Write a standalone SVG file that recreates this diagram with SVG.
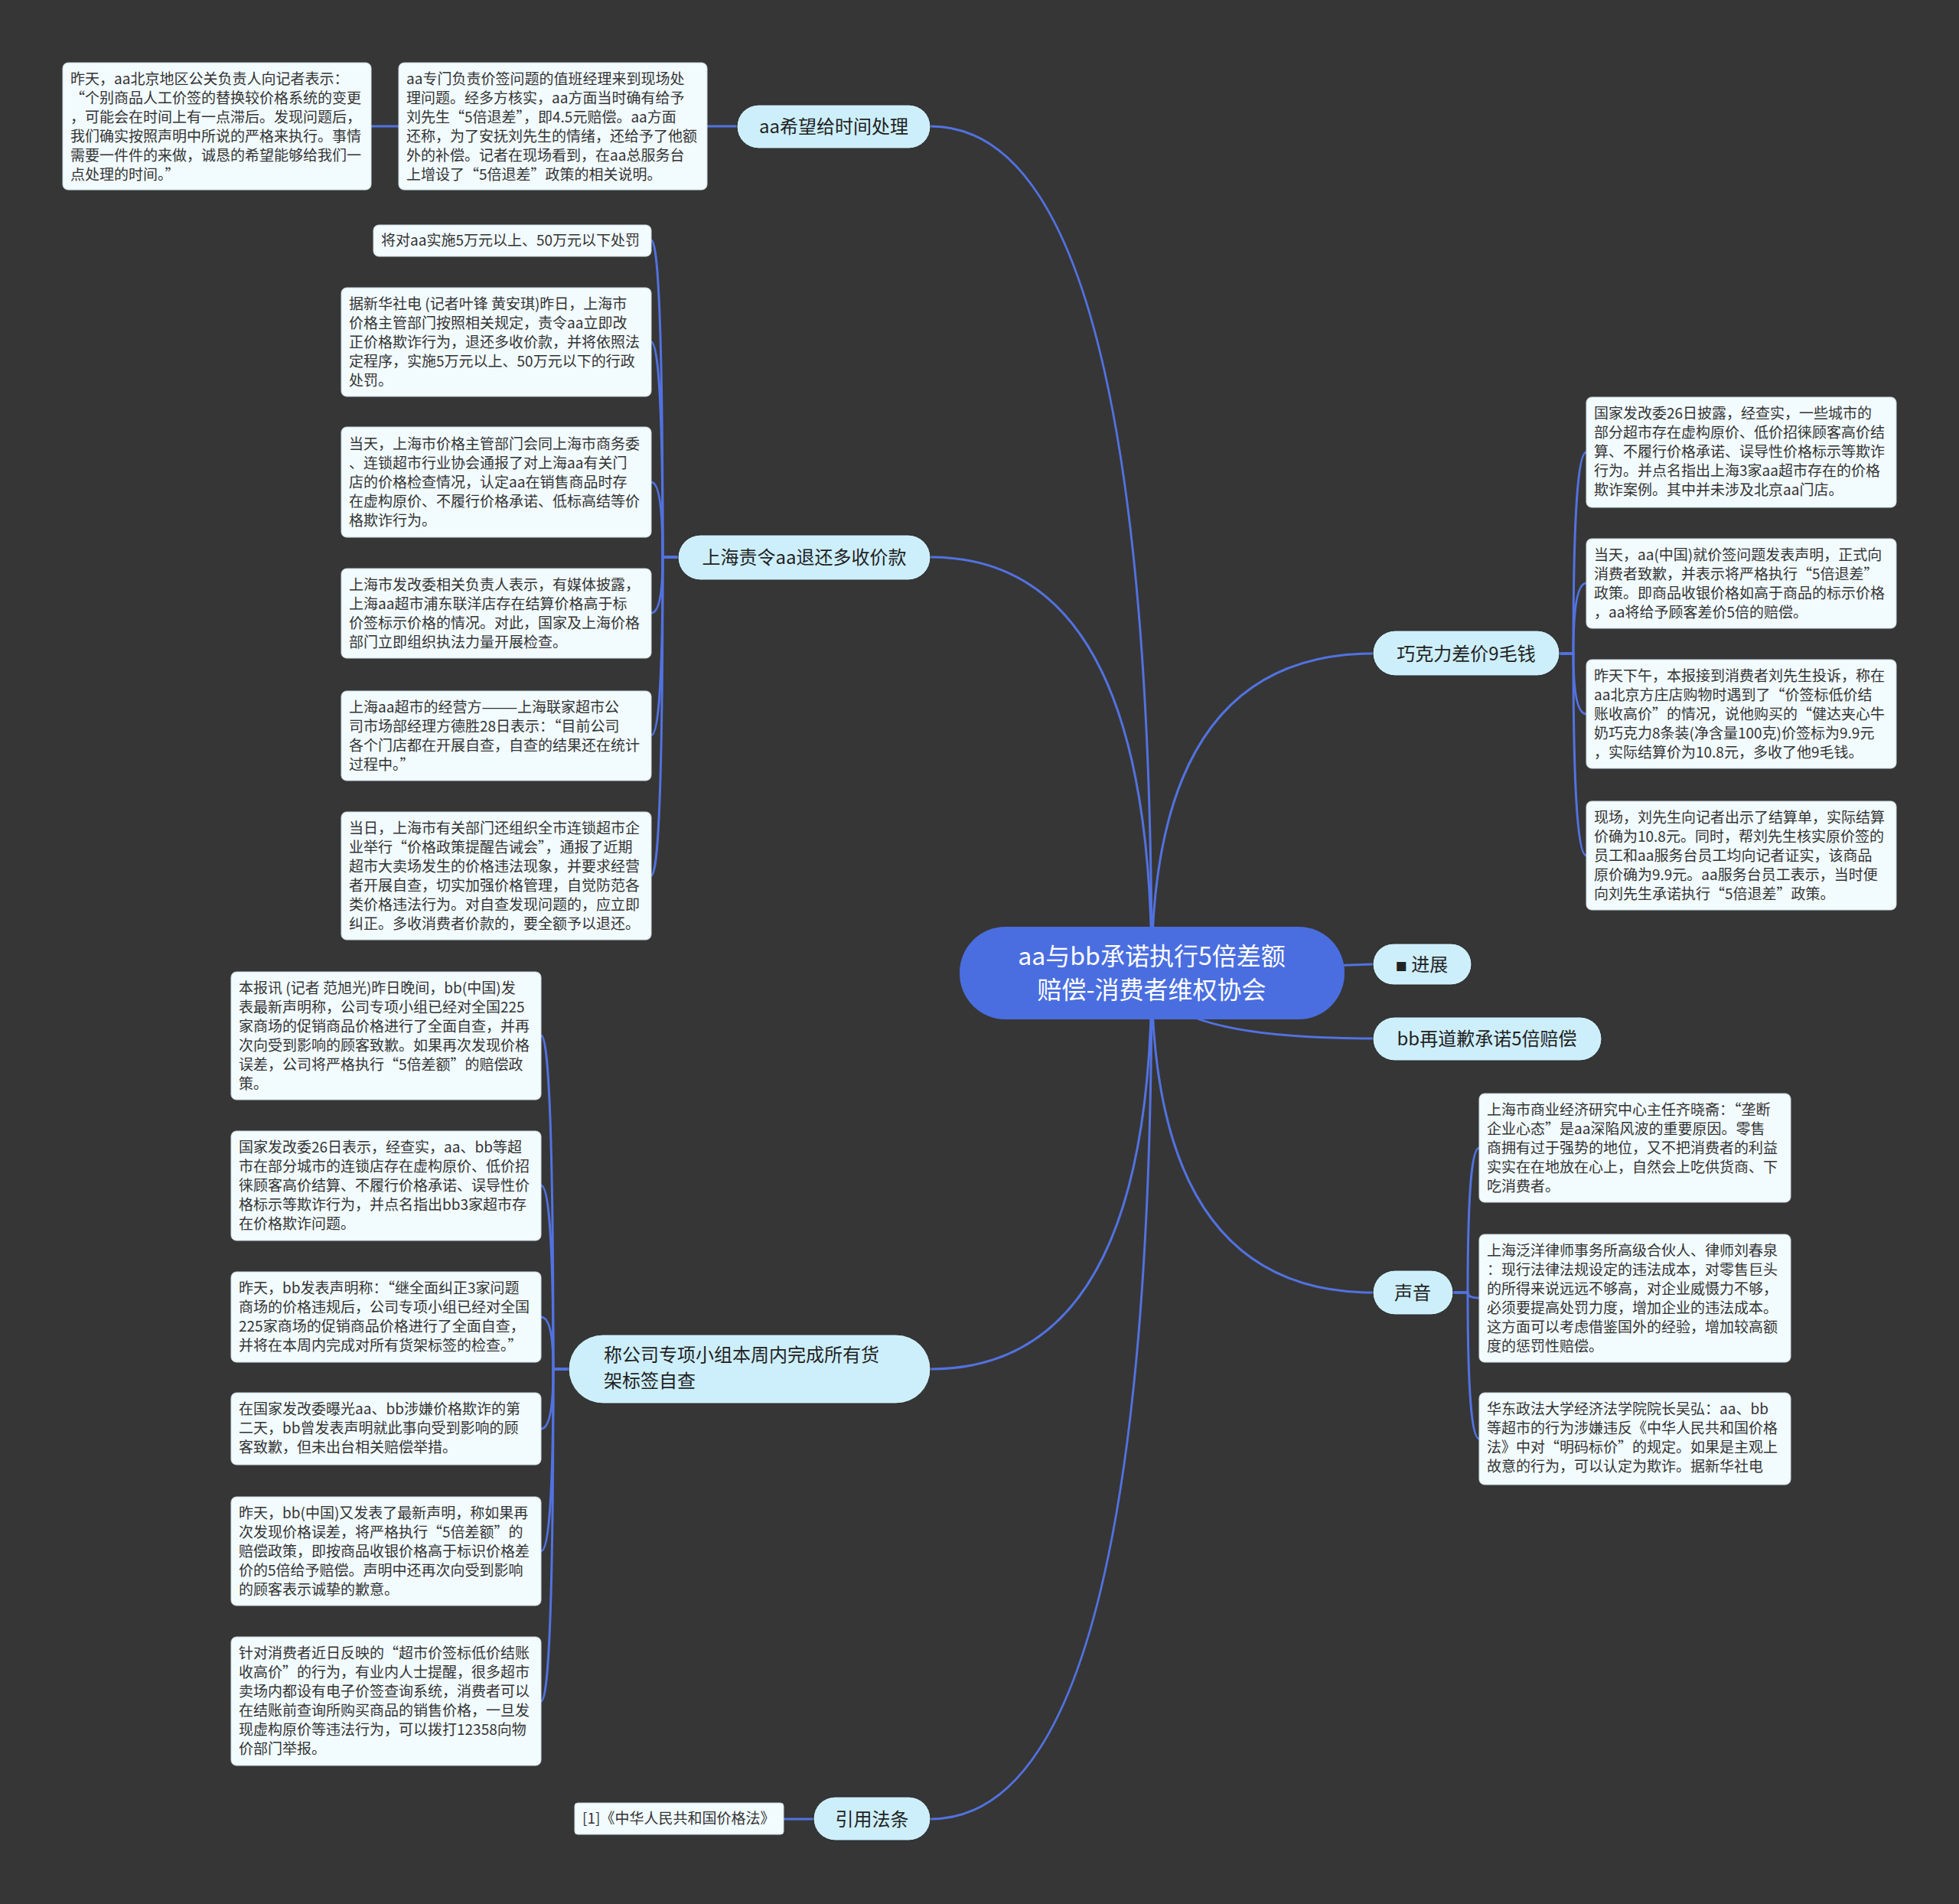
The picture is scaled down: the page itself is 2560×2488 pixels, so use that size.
<svg xmlns="http://www.w3.org/2000/svg" width="2560" height="2488" viewBox="0 0 2560 2488">
<style>
.bg{fill:#363636}
.ln{fill:none;stroke:#5272E0;stroke-width:3}
.root rect{fill:#4A6EE0}
.root text{fill:#ffffff;font-size:32px;text-anchor:middle}
.br rect{fill:#CDEFFC;stroke:#2a2a2a;stroke-width:1}
.br text{fill:#222;font-size:24px}
.lf rect{fill:#F2FBFE;stroke:#cfdde3;stroke-width:1}
.lf text{fill:#333;font-size:19px}
text{font-family:"Noto Sans CJK SC","Noto Sans",sans-serif}
</style>
<rect class="bg" x="0" y="0" width="2560" height="2488"/>
<g id="connectors">
<path class="ln" d="M1505 1270 Q1505 165 1216 165"/>
<path class="ln" d="M1505 1270 Q1505 728 1216 728"/>
<path class="ln" d="M1505 1270 Q1505 1789 1216 1789"/>
<path class="ln" d="M1505 1270 Q1505 2377 1216 2377"/>
<path class="ln" d="M1505 1270 Q1505 854 1794 854"/>
<path class="ln" d="M1505 1270 L1794 1260"/>
<path class="ln" d="M1505 1270 Q1505 1357 1794 1357"/>
<path class="ln" d="M1505 1270 Q1505 1689 1794 1689"/>
<path class="ln" d="M963 165 L924 165"/>
<path class="ln" d="M521 165 L485 165"/>
<path class="ln" d="M1063 2377 L1024 2377"/>
<path class="ln" d="M886 728 H866 Q866 314 851 314"/>
<path class="ln" d="M886 728 H866 Q866 447 851 447"/>
<path class="ln" d="M886 728 H866 Q866 630 851 630"/>
<path class="ln" d="M886 728 H866 Q866 801 851 801"/>
<path class="ln" d="M886 728 H866 Q866 961 851 961"/>
<path class="ln" d="M886 728 H866 Q866 1144 851 1144"/>
<path class="ln" d="M743 1789 H723 Q723 1353 707 1353"/>
<path class="ln" d="M743 1789 H723 Q723 1549 707 1549"/>
<path class="ln" d="M743 1789 H723 Q723 1721 707 1721"/>
<path class="ln" d="M743 1789 H723 Q723 1867 707 1867"/>
<path class="ln" d="M743 1789 H723 Q723 2027 707 2027"/>
<path class="ln" d="M743 1789 H723 Q723 2223 707 2223"/>
<path class="ln" d="M2038 854 H2056 Q2056 591 2073 591"/>
<path class="ln" d="M2038 854 H2056 Q2056 762 2073 762"/>
<path class="ln" d="M2038 854 H2056 Q2056 933 2073 933"/>
<path class="ln" d="M2038 854 H2056 Q2056 1118 2073 1118"/>
<path class="ln" d="M1899 1689 H1918 Q1918 1500 1933 1500"/>
<path class="ln" d="M1899 1689 H1918 Q1918 1696 1933 1696"/>
<path class="ln" d="M1899 1689 H1918 Q1918 1880 1933 1880"/>
</g>
<g id="root" class="root">
<rect x="1254" y="1211" width="503" height="121" rx="60"/>
<text x="1505" y="1261">aa与bb承诺执行5倍差额</text>
<text x="1505" y="1305">赔偿-消费者维权协会</text>
</g>
<g id="b-time" class="br"><rect x="963" y="137" width="253" height="57" rx="28.5"/><text x="1089.5" y="174" text-anchor="middle">aa希望给时间处理</text></g>
<g id="b-sh" class="br"><rect x="886" y="699" width="330" height="59" rx="29.5"/><text x="1051" y="737" text-anchor="middle">上海责令aa退还多收价款</text></g>
<g id="b-co" class="br"><rect x="743" y="1744" width="473" height="90" rx="45"/><text x="789" y="1779">称公司专项小组本周内完成所有货</text><text x="789" y="1813">架标签自查</text></g>
<g id="b-law" class="br"><rect x="1063" y="2348" width="153" height="57" rx="28.5"/><text x="1139.5" y="2386" text-anchor="middle">引用法条</text></g>
<g id="b-choc" class="br"><rect x="1794" y="824" width="244" height="59" rx="29.5"/><text x="1916" y="863" text-anchor="middle">巧克力差价9毛钱</text></g>
<g id="b-prog" class="br"><rect x="1794" y="1233" width="129" height="54" rx="27"/><text x="1858" y="1269" text-anchor="middle"><tspan font-size="15px">■</tspan> 进展</text></g>
<g id="b-bb" class="br"><rect x="1794" y="1329" width="299" height="57" rx="28.5"/><text x="1943" y="1366" text-anchor="middle">bb再道歉承诺5倍赔偿</text></g>
<g id="b-voice" class="br"><rect x="1794" y="1660" width="105" height="58" rx="29"/><text x="1846" y="1698" text-anchor="middle">声音</text></g>

<g id="l-1" class="lf"><rect x="82" y="82" width="403" height="166" rx="7"/><text x="92" y="110"><tspan x="92">昨天，aa北京地区公关负责人向记者表示：</tspan><tspan x="92" dy="25">“个别商品人工价签的替换较价格系统的变更</tspan><tspan x="92" dy="25">，可能会在时间上有一点滞后。发现问题后，</tspan><tspan x="92" dy="25">我们确实按照声明中所说的严格来执行。事情</tspan><tspan x="92" dy="25">需要一件件的来做，诚恳的希望能够给我们一</tspan><tspan x="92" dy="25">点处理的时间。”</tspan></text></g>
<g id="l-2" class="lf"><rect x="521" y="82" width="403" height="166" rx="7"/><text x="531" y="110"><tspan x="531">aa专门负责价签问题的值班经理来到现场处</tspan><tspan x="531" dy="25">理问题。经多方核实，aa方面当时确有给予</tspan><tspan x="531" dy="25">刘先生“5倍退差”，即4.5元赔偿。aa方面</tspan><tspan x="531" dy="25">还称，为了安抚刘先生的情绪，还给予了他额</tspan><tspan x="531" dy="25">外的补偿。记者在现场看到，在aa总服务台</tspan><tspan x="531" dy="25">上增设了“5倍退差”政策的相关说明。</tspan></text></g>

<g id="s-1" class="lf"><rect x="488" y="294" width="363" height="41" rx="7"/><text x="498" y="321">将对aa实施5万元以上、50万元以下处罚</text></g>
<g id="s-2" class="lf"><rect x="446" y="376" width="405" height="142" rx="7"/><text x="456" y="404"><tspan x="456">据新华社电 (记者叶锋 黄安琪)昨日，上海市</tspan><tspan x="456" dy="25">价格主管部门按照相关规定，责令aa立即改</tspan><tspan x="456" dy="25">正价格欺诈行为，退还多收价款，并将依照法</tspan><tspan x="456" dy="25">定程序，实施5万元以上、50万元以下的行政</tspan><tspan x="456" dy="25">处罚。</tspan></text></g>
<g id="s-3" class="lf"><rect x="446" y="558" width="405" height="144" rx="7"/><text x="456" y="587"><tspan x="456">当天，上海市价格主管部门会同上海市商务委</tspan><tspan x="456" dy="25">、连锁超市行业协会通报了对上海aa有关门</tspan><tspan x="456" dy="25">店的价格检查情况，认定aa在销售商品时存</tspan><tspan x="456" dy="25">在虚构原价、不履行价格承诺、低标高结等价</tspan><tspan x="456" dy="25">格欺诈行为。</tspan></text></g>
<g id="s-4" class="lf"><rect x="446" y="743" width="405" height="117" rx="7"/><text x="456" y="771"><tspan x="456">上海市发改委相关负责人表示，有媒体披露，</tspan><tspan x="456" dy="25">上海aa超市浦东联洋店存在结算价格高于标</tspan><tspan x="456" dy="25">价签标示价格的情况。对此，国家及上海价格</tspan><tspan x="456" dy="25">部门立即组织执法力量开展检查。</tspan></text></g>
<g id="s-5" class="lf"><rect x="446" y="903" width="405" height="117" rx="7"/><text x="456" y="931"><tspan x="456">上海aa超市的经营方———上海联家超市公</tspan><tspan x="456" dy="25">司市场部经理方德胜28日表示：“目前公司</tspan><tspan x="456" dy="25">各个门店都在开展自查，自查的结果还在统计</tspan><tspan x="456" dy="25">过程中。”</tspan></text></g>
<g id="s-6" class="lf"><rect x="446" y="1061" width="405" height="167" rx="7"/><text x="456" y="1089"><tspan x="456">当日，上海市有关部门还组织全市连锁超市企</tspan><tspan x="456" dy="25">业举行“价格政策提醒告诫会”，通报了近期</tspan><tspan x="456" dy="25">超市大卖场发生的价格违法现象，并要求经营</tspan><tspan x="456" dy="25">者开展自查，切实加强价格管理，自觉防范各</tspan><tspan x="456" dy="25">类价格违法行为。对自查发现问题的，应立即</tspan><tspan x="456" dy="25">纠正。多收消费者价款的，要全额予以退还。</tspan></text></g>

<g id="c-1" class="lf"><rect x="302" y="1270" width="405" height="167" rx="7"/><text x="312" y="1298"><tspan x="312">本报讯 (记者 范旭光)昨日晚间，bb(中国)发</tspan><tspan x="312" dy="25">表最新声明称，公司专项小组已经对全国225</tspan><tspan x="312" dy="25">家商场的促销商品价格进行了全面自查，并再</tspan><tspan x="312" dy="25">次向受到影响的顾客致歉。如果再次发现价格</tspan><tspan x="312" dy="25">误差，公司将严格执行“5倍差额”的赔偿政</tspan><tspan x="312" dy="25">策。</tspan></text></g>
<g id="c-2" class="lf"><rect x="302" y="1478" width="405" height="143" rx="7"/><text x="312" y="1506"><tspan x="312">国家发改委26日表示，经查实，aa、bb等超</tspan><tspan x="312" dy="25">市在部分城市的连锁店存在虚构原价、低价招</tspan><tspan x="312" dy="25">徕顾客高价结算、不履行价格承诺、误导性价</tspan><tspan x="312" dy="25">格标示等欺诈行为，并点名指出bb3家超市存</tspan><tspan x="312" dy="25">在价格欺诈问题。</tspan></text></g>
<g id="c-3" class="lf"><rect x="302" y="1662" width="405" height="118" rx="7"/><text x="312" y="1690"><tspan x="312">昨天，bb发表声明称：“继全面纠正3家问题</tspan><tspan x="312" dy="25">商场的价格违规后，公司专项小组已经对全国</tspan><tspan x="312" dy="25">225家商场的促销商品价格进行了全面自查，</tspan><tspan x="312" dy="25">并将在本周内完成对所有货架标签的检查。”</tspan></text></g>
<g id="c-4" class="lf"><rect x="302" y="1820" width="405" height="94" rx="7"/><text x="312" y="1848"><tspan x="312">在国家发改委曝光aa、bb涉嫌价格欺诈的第</tspan><tspan x="312" dy="25">二天，bb曾发表声明就此事向受到影响的顾</tspan><tspan x="312" dy="25">客致歉，但未出台相关赔偿举措。</tspan></text></g>
<g id="c-5" class="lf"><rect x="302" y="1956" width="405" height="142" rx="7"/><text x="312" y="1984"><tspan x="312">昨天，bb(中国)又发表了最新声明，称如果再</tspan><tspan x="312" dy="25">次发现价格误差，将严格执行“5倍差额”的</tspan><tspan x="312" dy="25">赔偿政策，即按商品收银价格高于标识价格差</tspan><tspan x="312" dy="25">价的5倍给予赔偿。声明中还再次向受到影响</tspan><tspan x="312" dy="25">的顾客表示诚挚的歉意。</tspan></text></g>
<g id="c-6" class="lf"><rect x="302" y="2139" width="405" height="168" rx="7"/><text x="312" y="2167"><tspan x="312">针对消费者近日反映的“超市价签标低价结账</tspan><tspan x="312" dy="25">收高价”的行为，有业内人士提醒，很多超市</tspan><tspan x="312" dy="25">卖场内都设有电子价签查询系统，消费者可以</tspan><tspan x="312" dy="25">在结账前查询所购买商品的销售价格，一旦发</tspan><tspan x="312" dy="25">现虚构原价等违法行为，可以拨打12358向物</tspan><tspan x="312" dy="25">价部门举报。</tspan></text></g>

<g id="law-1" class="lf"><rect x="751" y="2356" width="273" height="41" rx="4"/><text x="761" y="2383">[1]《中华人民共和国价格法》</text></g>

<g id="r-1" class="lf"><rect x="2073" y="519" width="405" height="144" rx="7"/><text x="2083" y="547"><tspan x="2083">国家发改委26日披露，经查实，一些城市的</tspan><tspan x="2083" dy="25">部分超市存在虚构原价、低价招徕顾客高价结</tspan><tspan x="2083" dy="25">算、不履行价格承诺、误导性价格标示等欺诈</tspan><tspan x="2083" dy="25">行为。并点名指出上海3家aa超市存在的价格</tspan><tspan x="2083" dy="25">欺诈案例。其中并未涉及北京aa门店。</tspan></text></g>
<g id="r-2" class="lf"><rect x="2073" y="704" width="405" height="117" rx="7"/><text x="2083" y="732"><tspan x="2083">当天，aa(中国)就价签问题发表声明，正式向</tspan><tspan x="2083" dy="25">消费者致歉，并表示将严格执行“5倍退差”</tspan><tspan x="2083" dy="25">政策。即商品收银价格如高于商品的标示价格</tspan><tspan x="2083" dy="25">，aa将给予顾客差价5倍的赔偿。</tspan></text></g>
<g id="r-3" class="lf"><rect x="2073" y="862" width="405" height="142" rx="7"/><text x="2083" y="890"><tspan x="2083">昨天下午，本报接到消费者刘先生投诉，称在</tspan><tspan x="2083" dy="25">aa北京方庄店购物时遇到了“价签标低价结</tspan><tspan x="2083" dy="25">账收高价”的情况，说他购买的“健达夹心牛</tspan><tspan x="2083" dy="25">奶巧克力8条装(净含量100克)价签标为9.9元</tspan><tspan x="2083" dy="25">，实际结算价为10.8元，多收了他9毛钱。</tspan></text></g>
<g id="r-4" class="lf"><rect x="2073" y="1047" width="405" height="142" rx="7"/><text x="2083" y="1075"><tspan x="2083">现场，刘先生向记者出示了结算单，实际结算</tspan><tspan x="2083" dy="25">价确为10.8元。同时，帮刘先生核实原价签的</tspan><tspan x="2083" dy="25">员工和aa服务台员工均向记者证实，该商品</tspan><tspan x="2083" dy="25">原价确为9.9元。aa服务台员工表示，当时便</tspan><tspan x="2083" dy="25">向刘先生承诺执行“5倍退差”政策。</tspan></text></g>

<g id="v-1" class="lf"><rect x="1933" y="1429" width="407" height="142" rx="7"/><text x="1943" y="1457"><tspan x="1943">上海市商业经济研究中心主任齐晓斋：“垄断</tspan><tspan x="1943" dy="25">企业心态”是aa深陷风波的重要原因。零售</tspan><tspan x="1943" dy="25">商拥有过于强势的地位，又不把消费者的利益</tspan><tspan x="1943" dy="25">实实在在地放在心上，自然会上吃供货商、下</tspan><tspan x="1943" dy="25">吃消费者。</tspan></text></g>
<g id="v-2" class="lf"><rect x="1933" y="1613" width="407" height="167" rx="7"/><text x="1943" y="1641"><tspan x="1943">上海泛洋律师事务所高级合伙人、律师刘春泉</tspan><tspan x="1943" dy="25">：现行法律法规设定的违法成本，对零售巨头</tspan><tspan x="1943" dy="25">的所得来说远远不够高，对企业威慑力不够，</tspan><tspan x="1943" dy="25">必须要提高处罚力度，增加企业的违法成本。</tspan><tspan x="1943" dy="25">这方面可以考虑借鉴国外的经验，增加较高额</tspan><tspan x="1943" dy="25">度的惩罚性赔偿。</tspan></text></g>
<g id="v-3" class="lf"><rect x="1933" y="1820" width="407" height="120" rx="7"/><text x="1943" y="1848"><tspan x="1943">华东政法大学经济法学院院长吴弘：aa、bb</tspan><tspan x="1943" dy="25">等超市的行为涉嫌违反《中华人民共和国价格</tspan><tspan x="1943" dy="25">法》中对“明码标价”的规定。如果是主观上</tspan><tspan x="1943" dy="25">故意的行为，可以认定为欺诈。据新华社电</tspan></text></g>
</svg>
